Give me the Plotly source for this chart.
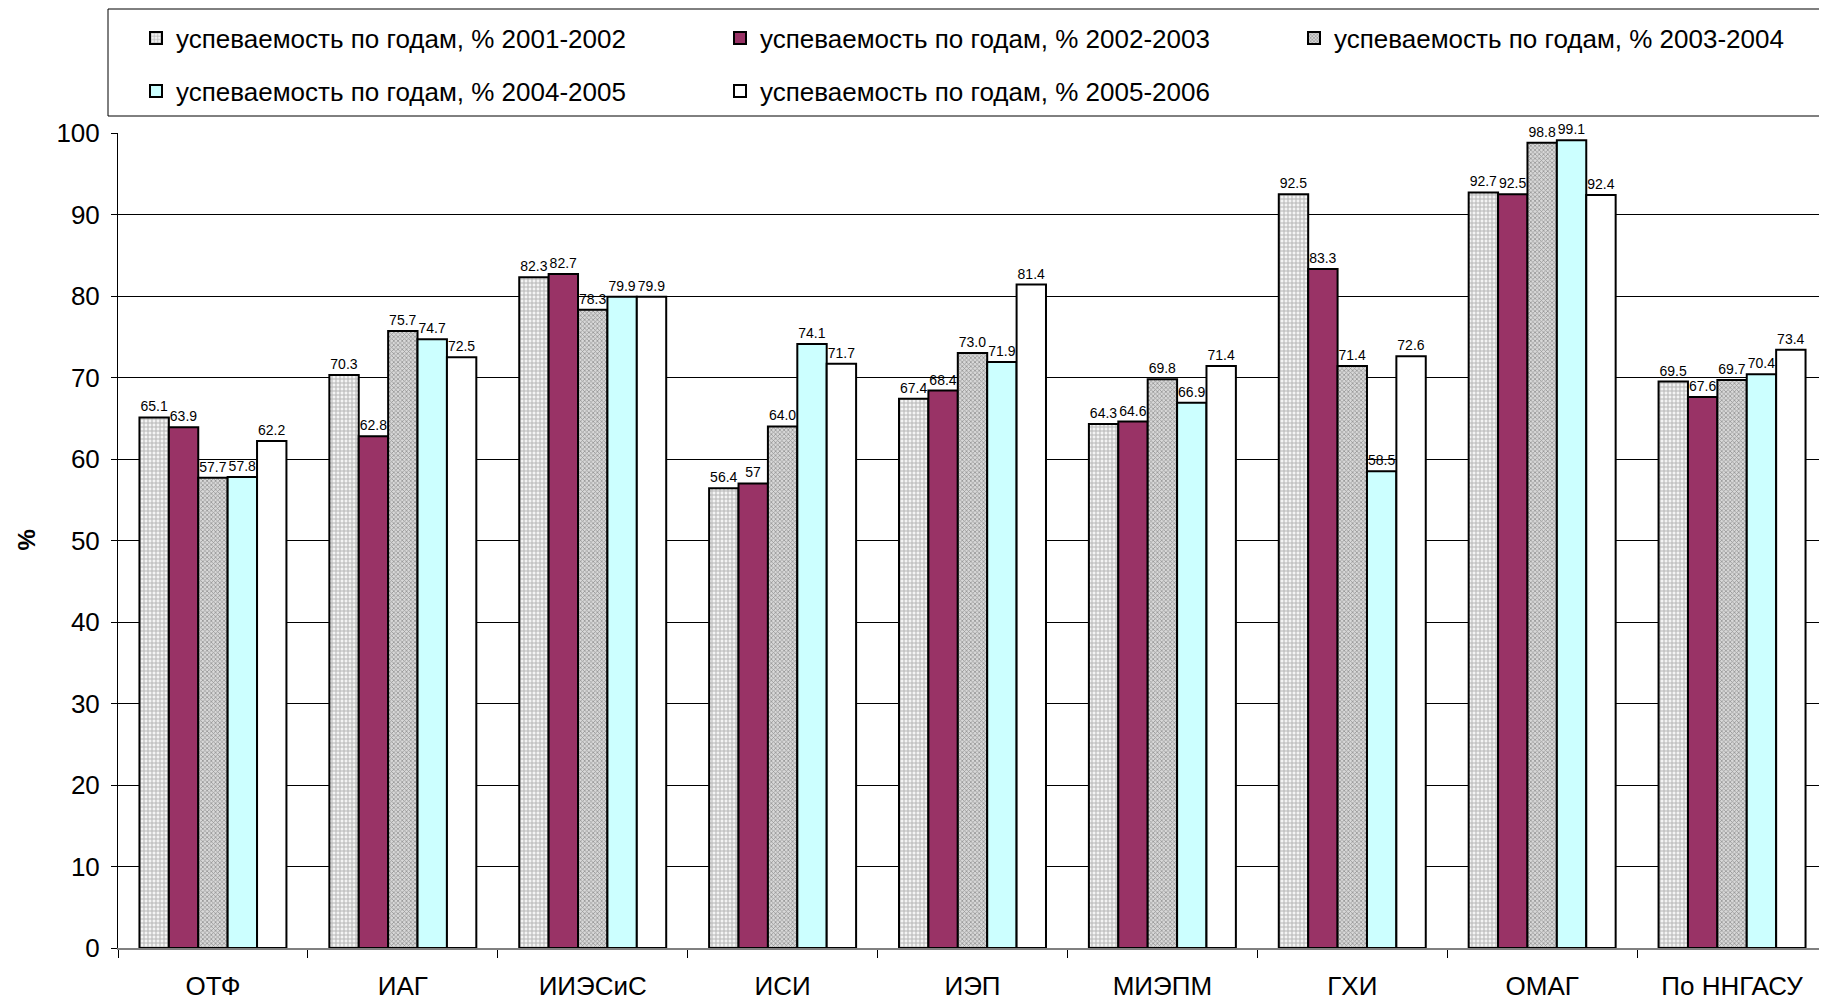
import plotly.graph_objects as go

categories = ["ОТФ", "ИАГ", "ИИЭСиС", "ИСИ", "ИЭП", "МИЭПМ", "ГХИ", "ОМАГ", "По ННГАСУ"]
series_names = [
    "успеваемость по годам, % 2001-2002",
    "успеваемость по годам, % 2002-2003",
    "успеваемость по годам, % 2003-2004",
    "успеваемость по годам, % 2004-2005",
    "успеваемость по годам, % 2005-2006",
]
v2001 = [65.1, 70.3, 82.3, 56.4, 67.4, 64.3, 92.5, 92.7, 69.5]
v2002 = [63.9, 62.8, 82.7, 57.0, 68.4, 64.6, 83.3, 92.5, 67.6]
v2003 = [57.7, 75.7, 78.3, 64.0, 73.0, 69.8, 71.4, 98.8, 69.7]
v2004 = [57.8, 74.7, 79.9, 74.1, 71.9, 66.9, 58.5, 99.1, 70.4]
v2005 = [62.2, 72.5, 79.9, 71.7, 81.4, 71.4, 72.6, 92.4, 73.4]
t2001 = ["65.1", "70.3", "82.3", "56.4", "67.4", "64.3", "92.5", "92.7", "69.5"]
t2002 = ["63.9", "62.8", "82.7", "57", "68.4", "64.6", "83.3", "92.5", "67.6"]
t2003 = ["57.7", "75.7", "78.3", "64.0", "73.0", "69.8", "71.4", "98.8", "69.7"]
t2004 = ["57.8", "74.7", "79.9", "74.1", "71.9", "66.9", "58.5", "99.1", "70.4"]
t2005 = ["62.2", "72.5", "79.9", "71.7", "81.4", "71.4", "72.6", "92.4", "73.4"]
y_ticks = [0, 10, 20, 30, 40, 50, 60, 70, 80, 90, 100]

FONT = "Liberation Sans, Arial, sans-serif"
OFF = 8  # page body margin
W, H = 1827 - OFF, 1001 - OFF
# page-coordinate plot box: left 118, top 133, bottom 948, right 1827
ML, MR, MT, MB = 118 - OFF, 0, 133 - OFF, H - (948 - OFF)
PW, PH = W - ML - MR, H - MT - MB

values = [v2001, v2002, v2003, v2004, v2005]
texts = [t2001, t2002, t2003, t2004, t2005]
markers = [
    dict(color="white", pattern=dict(shape="+", fgcolor="#777777", bgcolor="#f4f4f4", size=4, solidity=0.45)),
    dict(color="#993366"),
    dict(color="white", pattern=dict(shape="x", fgcolor="#505050", bgcolor="#d8d8d8", size=3, solidity=0.45)),
    dict(color="#CCFFFF"),
    dict(color="#FFFFFF"),
]
legends = ["legend", "legend", "legend3", "legend2", "legend2"]

fig = go.Figure()
for name, vals, txt, mk, lg in zip(series_names, values, texts, markers, legends):
    mk = dict(mk)
    mk["line"] = dict(color="black", width=2)
    fig.add_trace(go.Bar(
        x=categories, y=vals, name=name, marker=mk,
        text=txt, textposition="outside", cliponaxis=False,
        textfont=dict(family=FONT, size=14, color="black"),
        constraintext="none", legend=lg,
    ))

def py(page_y):
    return (MT + PH - (page_y - OFF)) / PH

def pxx(page_x):
    return ((page_x - OFF) - ML) / PW

leg_common = dict(
    orientation="h", xanchor="left", yanchor="middle",
    font=dict(family=FONT, size=26, color="black"),
    bgcolor="rgba(0,0,0,0)", borderwidth=0,
    entrywidth=539, entrywidthmode="pixels", traceorder="normal",
)

fig.update_layout(
    width=W, height=H,
    margin=dict(l=ML, r=MR, t=MT, b=MB, pad=0, autoexpand=False),
    paper_bgcolor="white", plot_bgcolor="white",
    barmode="group", bargap=0.226, bargroupgap=0,
    font=dict(family=FONT, size=26, color="black"),
    legend=dict(x=pxx(136), y=py(38), **leg_common),
    legend3=dict(x=pxx(136 + 1158), y=py(38), **leg_common),
    legend2=dict(x=pxx(136), y=py(91), **leg_common),
    showlegend=True,
    xaxis=dict(
        showgrid=False, showline=True, linecolor="#808080", linewidth=2,
        ticks="outside", tickson="boundaries", ticklen=8, tickcolor="black",
        tickfont=dict(family=FONT, size=26, color="black"),
        ticklabelstandoff=14, automargin=False,
    ),
    yaxis=dict(
        range=[0, 100], tickvals=y_ticks, showgrid=True, gridcolor="black", gridwidth=1,
        showline=True, linecolor="black", linewidth=1, mirror=False,
        ticks="outside", ticklen=6, tickcolor="black",
        tickfont=dict(family=FONT, size=26, color="black"),
        ticklabelstandoff=6, zeroline=False, automargin=False,
    ),
    shapes=[
        dict(type="rect", xref="paper", yref="paper",
             x0=pxx(108), x1=pxx(1827 + 10), y0=py(116), y1=py(9),
             line=dict(color="black", width=1), fillcolor="rgba(0,0,0,0)"),
    ],
    annotations=[
        dict(text="<b>%</b>", xref="paper", yref="paper", x=pxx(26), y=0.5,
             showarrow=False, textangle=-90, xanchor="center", yanchor="middle",
             font=dict(family=FONT, size=24, color="black")),
    ],
)

fig.write_html("out.html")
